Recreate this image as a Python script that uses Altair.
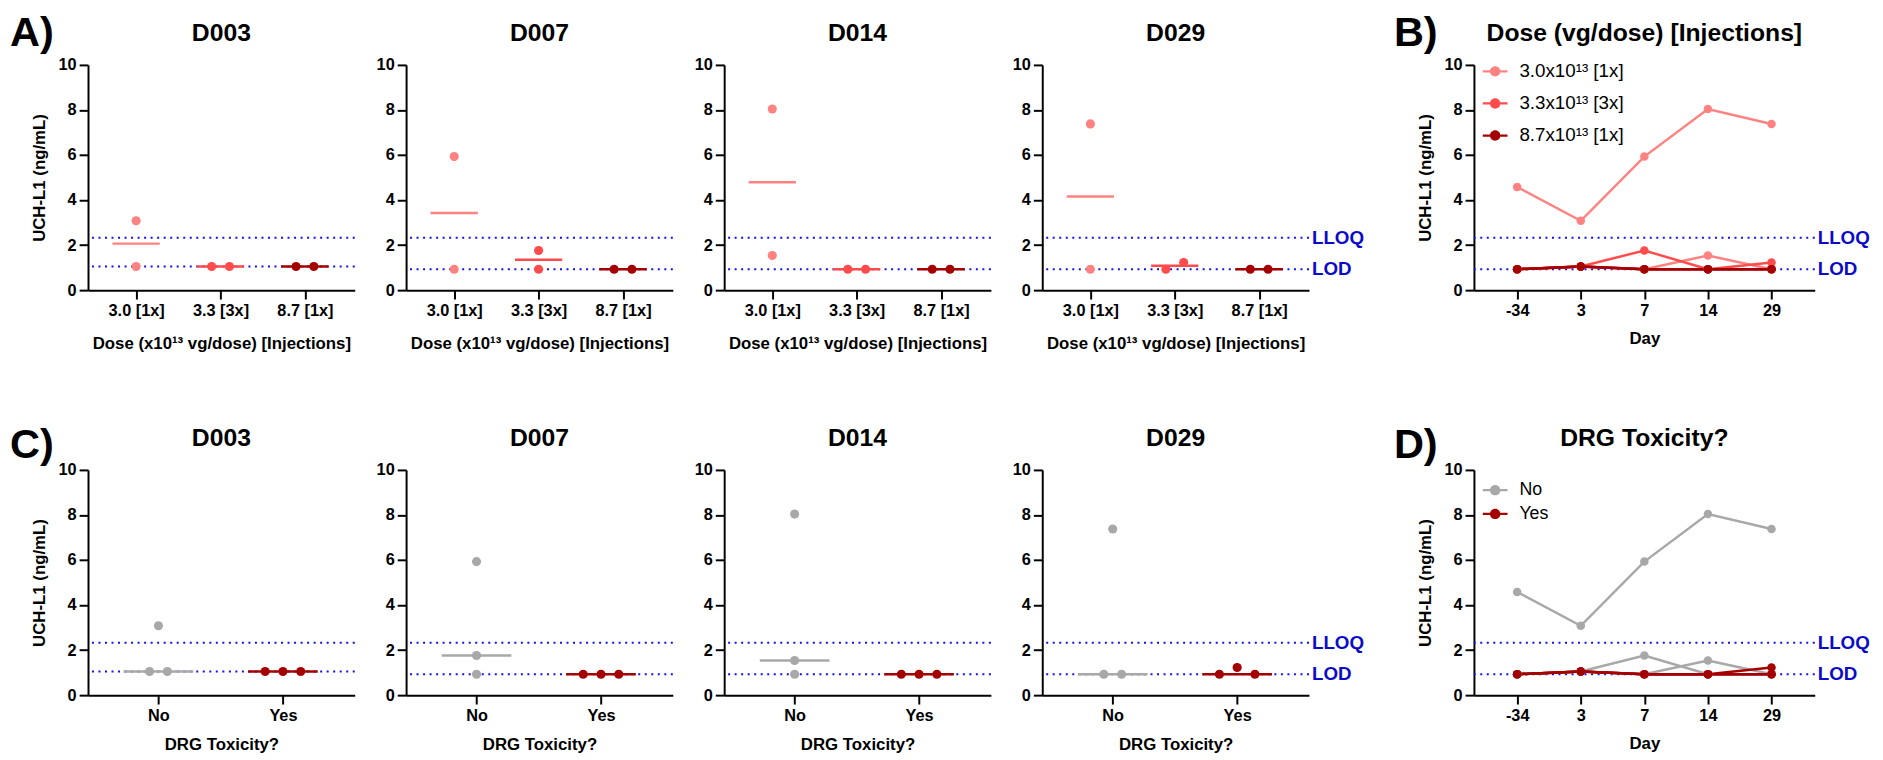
import json
import altair as alt
import pandas as pd

# ---------------- data ----------------
days = ["-34", "3", "7", "14", "29"]
panel_days = ["3", "7", "14", "29"]
panel_titles = ["D003", "D007", "D014", "D029"]
animal_ids = ["1", "2", "3", "4", "5", "6"]
animal_dose = ["3.0 [1x]", "3.0 [1x]", "3.3 [3x]", "3.3 [3x]", "8.7 [1x]", "8.7 [1x]"]
animal_tox = ["No", "No", "No", "Yes", "Yes", "Yes"]
dose_levels = ["3.0 [1x]", "3.3 [3x]", "8.7 [1x]"]
dose_legend_labels = ["3.0x10¹³ [1x]", "3.3x10¹³ [3x]", "8.7x10¹³ [1x]"]
tox_levels = ["No", "Yes"]

# UCH-L1 (ng/mL) per animal, days -34, 3, 7, 14, 29
uchl1_animal1 = [4.58, 3.08, 5.93, 8.04, 7.38]
uchl1_animal2 = [0.93, 1.05, 0.93, 1.54, 0.93]
uchl1_animal3 = [0.93, 1.05, 1.76, 0.93, 0.93]
uchl1_animal4 = [0.93, 1.05, 0.93, 0.93, 1.23]
uchl1_animal5 = [0.93, 1.05, 0.93, 0.93, 0.93]
uchl1_animal6 = [0.93, 1.05, 0.93, 0.93, 0.93]

lod_by_day = [0.93, 1.05, 0.93, 0.93, 0.93]
lloq_by_day = [2.33, 2.33, 2.33, 2.33, 2.33]
lod_overall = 0.93
lloq_overall = 2.33
threshold_names = ["LLOQ", "LOD"]
panel_letters = ["A)", "B)", "C)", "D)"]
line_titles = ["Dose (vg/dose) [Injections]", "DRG Toxicity?"]

# ---------------- styles ----------------
FONT = "Liberation Sans"
dose_colors = ["#FF8282", "#FF4B4B", "#A50000"]
tox_colors = ["#A8A8A8", "#A50000"]
DOT_BLUE = "#1010F0"
LABEL_BLUE = "#0A0AC8"
SC_W, SC_H = 270, 228
LN_W, LN_H = 345, 228
LEG_PATH = "M-1,-0.09H1V0.09H-1Z M0.42,0A0.42,0.42,0,1,1,-0.42,0A0.42,0.42,0,1,1,0.42,0Z"

series = [uchl1_animal1, uchl1_animal2, uchl1_animal3,
          uchl1_animal4, uchl1_animal5, uchl1_animal6]
rows = []
for a, dose, tox, vals in zip(animal_ids, animal_dose, animal_tox, series):
    for d, v in zip(days, vals):
        rows.append(dict(animal=a, dose=dose, tox=tox, day=d, value=v,
                         dose_leg=dose_legend_labels[dose_levels.index(dose)]))
long_df = pd.DataFrame(rows)

yscale = alt.Scale(domain=[0, 10], nice=False)


def yaxis(show_title):
    return alt.Axis(values=[0, 2, 4, 6, 8, 10], title="UCH-L1 (ng/mL)" if show_title else None,
                    titlePadding=10)


def spread(sub, field, levels):
    """Scatter-dot arrangement: near-equal values are spread sideways."""
    out = []
    for g_i, g in enumerate(levels):
        s = sub[sub[field] == g].sort_values("value", kind="stable")
        recs = list(s.itertuples())
        clusters = []
        for r in recs:
            if clusters and r.value - clusters[-1][-1].value < 0.45:
                clusters[-1].append(r)
            else:
                clusters.append([r])
        for cl in clusters:
            k = len(cl)
            pos = [i - (k - 1) / 2 for i in range(k)]
            pos.sort(key=lambda p: (abs(p), -p))
            for r, p in zip(sorted(cl, key=lambda r: -r.value), pos):
                out.append(dict(animal=r.animal, grp=g, gidx=g_i, value=r.value, slot=p))
    return pd.DataFrame(out)


def letter_layer(letter, dy, dx=-79):
    return alt.Chart(pd.DataFrame({"t": [letter]})).mark_text(
        fontSize=42, fontWeight="bold", align="left", baseline="alphabetic",
        font=FONT, color="black").encode(text="t:N", x=alt.value(dx), y=alt.value(dy))


def title_layer(text, width):
    return alt.Chart(pd.DataFrame({"t": [text]})).mark_text(
        fontSize=25, fontWeight="bold", align="center", baseline="middle",
        font=FONT, color="black").encode(text="t:N", x=alt.value(width / 2), y=alt.value(-32))


def threshold_layers(thr, width, labels):
    layers = [alt.Chart(thr).mark_rule(color=DOT_BLUE, strokeWidth=2, strokeDash=[2, 4.6]).encode(
        y=alt.Y("value:Q", scale=yscale))]
    if labels:
        layers.append(alt.Chart(thr).mark_text(
            align="left", baseline="middle", dx=3, fontSize=19, fontWeight="bold",
            font=FONT, color=LABEL_BLUE).encode(
            y=alt.Y("value:Q", scale=yscale), x=alt.value(width), text="name:N"))
    return layers


def scatter_panel(i, mode, letter=None, letter_dy=-19):
    day = panel_days[i]
    di = days.index(day)
    sub = long_df[long_df.day == day]
    if mode == "dose":
        field, levels, colors = "dose", dose_levels, dose_colors
        dom = [-0.57, 2.59]
        xtitle = "Dose (x10¹³ vg/dose) [Injections]"
        tpad = 17
    else:
        field, levels, colors = "tox", tox_levels, tox_colors
        dom = [-0.566, 1.577]
        xtitle = "DRG Toxicity?"
        tpad = 13
    pts = spread(sub, field, levels)
    k = 18.0 / (SC_W / (dom[1] - dom[0]))
    thr = pd.DataFrame({"name": threshold_names, "value": [lloq_by_day[di], lod_by_day[di]]})
    xscale = alt.Scale(domain=dom, nice=False, zero=False)
    xaxis = alt.Axis(values=list(range(len(levels))),
                     labelExpr=f"{json.dumps(levels)}[datum.value]", title=xtitle,
                     titlePadding=tpad)
    ya = yaxis(i == 0)
    color = alt.Color("grp:N", scale=alt.Scale(domain=levels, range=colors), legend=None)
    med = alt.Chart(pts).transform_aggregate(
        med="median(value)", groupby=["grp", "gidx"]).transform_calculate(
        x1="datum.gidx - 0.28", x2="datum.gidx + 0.28").mark_rule(strokeWidth=2.5).encode(
        x=alt.X("x1:Q", scale=xscale, axis=xaxis), x2="x2:Q",
        y=alt.Y("med:Q", scale=yscale, axis=ya), color=color)
    dots = alt.Chart(pts).transform_calculate(
        xpos=f"datum.gidx + datum.slot * {k}").mark_circle(size=85, opacity=1).encode(
        x=alt.X("xpos:Q", scale=xscale, axis=xaxis),
        y=alt.Y("value:Q", scale=yscale, axis=ya), color=color)
    layers = threshold_layers(thr, SC_W, i == len(panel_days) - 1) + [
        med, dots, title_layer(panel_titles[i], SC_W)]
    if letter:
        layers.append(letter_layer(letter, letter_dy))
    return alt.layer(*layers).properties(width=SC_W, height=SC_H)


def make_legend(mode):
    if mode == "dose":
        return alt.Legend(title=None, orient="none", legendX=9, legendY=-6,
                          symbolType=LEG_PATH, symbolSize=625, labelFontSize=19,
                          labelFont=FONT, labelColor="black", labelFontWeight="normal",
                          rowPadding=9.5, padding=0, labelOffset=12, symbolStrokeWidth=0,
                          symbolOpacity=1)
    return alt.Legend(title=None, orient="none", legendX=9, legendY=8,
                      symbolType=LEG_PATH, symbolSize=625, labelFontSize=18,
                      labelFont=FONT, labelColor="black", labelFontWeight="normal",
                      rowPadding=2, padding=0, labelOffset=12, symbolStrokeWidth=0,
                      symbolOpacity=1)


def line_panel(mode, letter, letter_dy):
    if mode == "dose":
        field, domain, colors = "dose_leg", dose_legend_labels, dose_colors
        title = line_titles[0]
    else:
        field, domain, colors = "tox", tox_levels, tox_colors
        title = line_titles[1]
    thr = pd.DataFrame({"name": threshold_names, "value": [lloq_overall, lod_overall]})
    x = alt.X("day:O", sort=days, scale=alt.Scale(type="point", padding=0.68),
              axis=alt.Axis(title="Day", labelAngle=0, titlePadding=12))
    y = alt.Y("value:Q", scale=yscale, axis=yaxis(True))
    cscale = alt.Scale(domain=domain, range=colors)
    lines = alt.Chart(long_df).mark_line(strokeWidth=2.5).encode(
        x=x, y=y, stroke=alt.Stroke(f"{field}:N", scale=cscale, legend=make_legend(mode)),
        detail="animal:N")
    dots = alt.Chart(long_df).mark_circle(size=75, opacity=1).encode(
        x=x, y=y, color=alt.Color(f"{field}:N", scale=cscale, legend=make_legend(mode)))
    layers = threshold_layers(thr, LN_W, True) + [
        lines, dots, title_layer(title, LN_W), letter_layer(letter, letter_dy, -81)]
    return alt.layer(*layers).properties(width=LN_W, height=LN_H)


def row(mode, letter_a, letter_b, dy):
    scat = alt.hconcat(
        *[scatter_panel(i, mode, letter_a if i == 0 else None, dy) for i in range(4)],
        spacing=20).resolve_scale(color="independent")
    return alt.hconcat(scat, line_panel(mode, letter_b, dy), spacing=30).resolve_scale(
        color="independent", stroke="independent").resolve_legend(
        color="independent", stroke="independent")


top = row("dose", panel_letters[0], panel_letters[1], -19)
bottom = row("tox", panel_letters[2], panel_letters[3], -12)

chart = alt.vconcat(top, bottom, spacing=73).resolve_scale(
    color="independent", stroke="independent"
).resolve_legend(color="independent", stroke="independent").properties(
    padding={"left": 2, "top": 0, "right": 5, "bottom": 0}
).configure(
    font=FONT
).configure_view(stroke=None).configure_axis(
    labelFont=FONT, labelFontSize=16.5, labelFontWeight="bold", labelColor="black",
    titleFont=FONT, titleFontSize=17, titleFontWeight="bold", titleColor="black",
    domainColor="black", domainWidth=2, tickColor="black", tickWidth=2, tickSize=9,
    labelPadding=3, grid=False
).configure_axisX(labelPadding=4)

chart.save("out.html", embed_options={"renderer": "svg", "actions": False})
